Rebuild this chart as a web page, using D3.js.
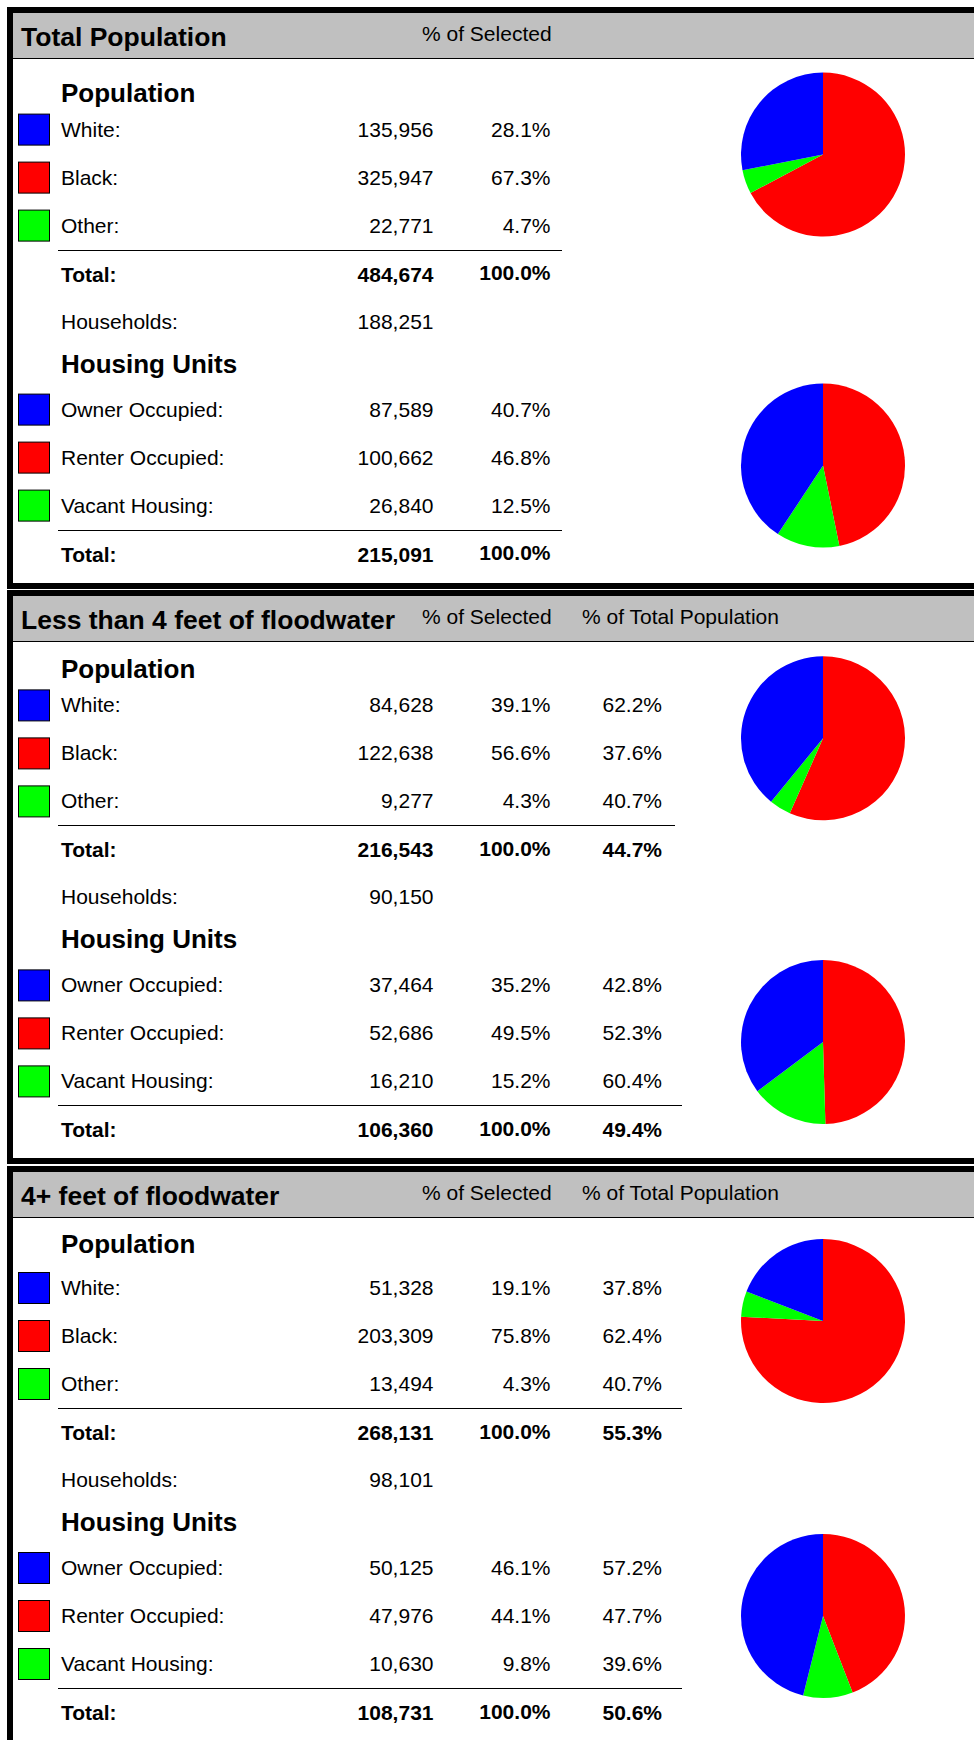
<!DOCTYPE html>
<html>
<head>
<meta charset="utf-8">
<script src="https://cdn.jsdelivr.net/npm/d3@7"></script>
<style>
  html, body { margin: 0; padding: 0; background: #fff; }
  svg { display: block; }
  text { font-family: "Liberation Sans", Arial, sans-serif; fill: #000; }
</style>
</head>
<body>
<div id="chart"></div>
<script>
// ---------------- DATA ----------------
const sectionTitles = ["Total Population", "Less than 4 feet of floodwater", "4+ feet of floodwater"];
const columnHeaders = ["% of Selected", "% of Total Population"];
const popHeading = "Population";
const housingHeading = "Housing Units";
const popCategories = ["White:", "Black:", "Other:"];
const housingCategories = ["Owner Occupied:", "Renter Occupied:", "Vacant Housing:"];
const totalLabel = "Total:";
const householdsLabel = "Households:";

const popCounts = [
  [135956, 325947, 22771],
  [84628, 122638, 9277],
  [51328, 203309, 13494]
];
const popPctSelected = [
  [28.1, 67.3, 4.7],
  [39.1, 56.6, 4.3],
  [19.1, 75.8, 4.3]
];
const popPctTotal = [
  null,
  [62.2, 37.6, 40.7],
  [37.8, 62.4, 40.7]
];
const popTotals = [484674, 216543, 268131];
const popTotalPctSelected = [100.0, 100.0, 100.0];
const popTotalPctTotal = [null, 44.7, 55.3];
const households = [188251, 90150, 98101];

const housingCounts = [
  [87589, 100662, 26840],
  [37464, 52686, 16210],
  [50125, 47976, 10630]
];
const housingPctSelected = [
  [40.7, 46.8, 12.5],
  [35.2, 49.5, 15.2],
  [46.1, 44.1, 9.8]
];
const housingPctTotal = [
  null,
  [42.8, 52.3, 60.4],
  [57.2, 47.7, 39.6]
];
const housingTotals = [215091, 106360, 108731];
const housingTotalPctSelected = [100.0, 100.0, 100.0];
const housingTotalPctTotal = [null, 49.4, 50.6];

// pie slice order, clockwise from 12 o'clock (index into category arrays)
const pieOrder = [1, 2, 0];

// ---------------- LAYOUT / STYLE ----------------
const W = 974, H = 1740;
const colors = ["#0000ff", "#ff0000", "#00ff00"];
const layout = [
  { top: 7,    height: 582, popHead: 89.2, r0: 123.6, pie1: 141.6, pie2: 452.6, lineEnd: [562, 562] },
  { top: 590,  height: 574, popHead: 81.6, r0: 116.4, pie1: 142.3, pie2: 446,   lineEnd: [675, 682] },
  { top: 1166, height: 700, popHead: 81.0, r0: 123.0, pie1: 149,   pie2: 444,   lineEnd: [682, 682] }
];
const border = 6, headerH = 45;
const xLabel = 61, xCount = 433.5, xPctSel = 550.5, xPctTot = 662, xLine0 = 58;
const pieCx = 823, pieR = 82;

const fmtCount = d3.format(",");
const fmtPct = d3.format(".1f");
const pct = v => fmtPct(v) + "%";

const svg = d3.select("#chart").append("svg")
  .attr("width", W).attr("height", H)
  .attr("viewBox", `0 0 ${W} ${H}`);

const pie = d3.pie().sort(null).value(d => d.v);
const arc = d3.arc().innerRadius(0).outerRadius(pieR);

function drawTable(g, y0, cats, counts, pSel, pTot, total, totPSel, totPTot, lineEnd) {
  const rowStep = 48;
  cats.forEach((c, i) => {
    const y = y0 + i * rowStep;
    g.append("rect")
      .attr("x", 18.5).attr("y", y - 22.5)
      .attr("width", 31).attr("height", 31)
      .attr("fill", colors[i]).attr("stroke", "#000").attr("stroke-width", 1);
    g.append("text").attr("x", xLabel).attr("y", y).attr("font-size", 21).text(c);
    g.append("text").attr("x", xCount).attr("y", y).attr("font-size", 21)
      .attr("text-anchor", "end").text(fmtCount(counts[i]));
    g.append("text").attr("x", xPctSel).attr("y", y).attr("font-size", 21)
      .attr("text-anchor", "end").text(pct(pSel[i]));
    if (pTot) {
      g.append("text").attr("x", xPctTot).attr("y", y).attr("font-size", 21)
        .attr("text-anchor", "end").text(pct(pTot[i]));
    }
  });
  const ly = Math.round(y0 + 113) + 0.5;
  g.append("line").attr("x1", xLine0).attr("x2", lineEnd)
    .attr("y1", ly).attr("y2", ly).attr("stroke", "#000").attr("stroke-width", 1.2);
  const ty = y0 + 145;
  g.append("text").attr("x", xLabel).attr("y", ty).attr("font-size", 21)
    .attr("font-weight", "bold").text(totalLabel);
  g.append("text").attr("x", xCount).attr("y", ty).attr("font-size", 21)
    .attr("font-weight", "bold").attr("text-anchor", "end").text(fmtCount(total));
  g.append("text").attr("x", xPctSel).attr("y", ty - 1.5).attr("font-size", 21)
    .attr("font-weight", "bold").attr("text-anchor", "end").text(pct(totPSel));
  if (totPTot != null) {
    g.append("text").attr("x", xPctTot).attr("y", ty).attr("font-size", 21)
      .attr("font-weight", "bold").attr("text-anchor", "end").text(pct(totPTot));
  }
}

function drawPie(g, cy, counts) {
  const data = pieOrder.map(i => ({ v: counts[i], c: colors[i] }));
  const pg = g.append("g").attr("transform", `translate(${pieCx},${cy})`);
  pg.selectAll("path").data(pie(data)).join("path")
    .attr("d", arc).attr("fill", d => d.data.c);
}

sectionTitles.forEach((title, s) => {
  const L = layout[s];
  const g = svg.append("g");
  // frame
  g.append("rect").attr("x", 7).attr("y", L.top).attr("width", W).attr("height", L.height).attr("fill", "#000");
  g.append("rect").attr("x", 7 + border).attr("y", L.top + border)
    .attr("width", W).attr("height", L.height - 2 * border).attr("fill", "#fff");
  const gt = L.top + border;
  g.append("rect").attr("x", 7 + border).attr("y", gt).attr("width", W).attr("height", headerH).attr("fill", "#c0c0c0");
  g.append("line").attr("x1", 7 + border).attr("x2", W).attr("y1", gt + headerH + 0.5).attr("y2", gt + headerH + 0.5)
    .attr("stroke", "#000").attr("stroke-width", 1.2);

  g.append("text").attr("x", 21).attr("y", gt + 33).attr("font-size", 26.5).attr("font-weight", "bold").text(title);
  g.append("text").attr("x", 422).attr("y", gt + 28.3).attr("font-size", 21).text(columnHeaders[0]);
  if (s > 0) {
    g.append("text").attr("x", 582).attr("y", gt + 28.3).attr("font-size", 21).text(columnHeaders[1]);
  }

  // population block
  g.append("text").attr("x", xLabel).attr("y", gt + L.popHead).attr("font-size", 26).attr("font-weight", "bold").text(popHeading);
  const r0 = gt + L.r0;
  drawTable(g, r0, popCategories, popCounts[s], popPctSelected[s], popPctTotal[s],
    popTotals[s], popTotalPctSelected[s], popTotalPctTotal[s], L.lineEnd[0]);

  // households
  const hy = r0 + 192;
  g.append("text").attr("x", xLabel).attr("y", hy).attr("font-size", 21).text(householdsLabel);
  g.append("text").attr("x", xCount).attr("y", hy).attr("font-size", 21).attr("text-anchor", "end").text(fmtCount(households[s]));

  // housing block
  g.append("text").attr("x", xLabel).attr("y", r0 + 236).attr("font-size", 26).attr("font-weight", "bold").text(housingHeading);
  drawTable(g, r0 + 280, housingCategories, housingCounts[s], housingPctSelected[s], housingPctTotal[s],
    housingTotals[s], housingTotalPctSelected[s], housingTotalPctTotal[s], L.lineEnd[1]);

  drawPie(g, gt + L.pie1, popCounts[s]);
  drawPie(g, gt + L.pie2, housingCounts[s]);
});
</script>
</body>
</html>
